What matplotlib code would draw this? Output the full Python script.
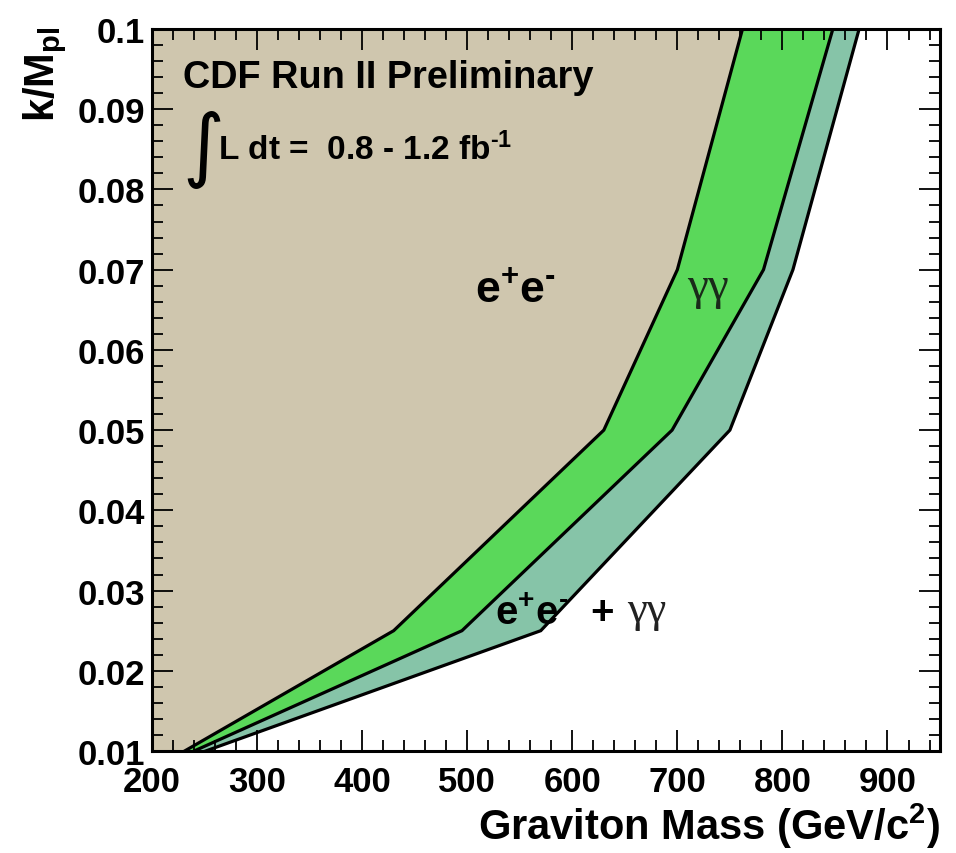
import matplotlib
matplotlib.use("Agg")
import matplotlib.pyplot as plt
from matplotlib.ticker import MultipleLocator, FuncFormatter

# ---- data ----
k_values = [0.01, 0.025, 0.05, 0.07, 0.10]
ee_mass = [231, 430, 630, 700, 762]        # e+e- exclusion boundary
gg_mass = [240, 495, 695, 782, 848]        # gamma-gamma boundary
comb_mass = [251, 570, 750, 810, 873]      # combined boundary
x_range = [200, 950]
y_range = [0.01, 0.10]

plt.rcParams['font.family'] = ['Liberation Sans', 'DejaVu Sans']
plt.rcParams['font.weight'] = 'bold'
plt.rcParams['mathtext.fontset'] = 'custom'
plt.rcParams['mathtext.rm'] = 'Liberation Sans:bold'
plt.rcParams['mathtext.it'] = 'Liberation Sans:bold'
plt.rcParams['mathtext.bf'] = 'Liberation Sans:bold'

TAN = '#cfc6ae'
GREEN = '#5ad85a'
TEAL = '#86c4a8'
HY = '\u2010'

fig = plt.figure(figsize=(9.56, 8.54), dpi=100)
ax = fig.add_axes([0.159, 0.1194, 0.8243, 0.8455])

ax.fill_betweenx(k_values, x_range[0], ee_mass, color=TAN, lw=0)
ax.fill_betweenx(k_values, ee_mass, gg_mass, color=GREEN, lw=0)
ax.fill_betweenx(k_values, gg_mass, comb_mass, color=TEAL, lw=0)
for m in (ee_mass, gg_mass, comb_mass):
    ax.plot(m, k_values, color='black', lw=2.3, solid_joinstyle='miter')

ax.set_xlim(*x_range)
ax.set_ylim(*y_range)

ax.xaxis.set_major_locator(MultipleLocator(100))
ax.xaxis.set_minor_locator(MultipleLocator(20))
ax.yaxis.set_major_locator(MultipleLocator(0.01))
ax.yaxis.set_minor_locator(MultipleLocator(0.002))
ax.yaxis.set_major_formatter(FuncFormatter(lambda v, p: '%g' % round(v, 3)))

ax.tick_params(which='both', direction='in', top=True, right=True, width=1.3, colors='black')
ax.tick_params(which='major', length=15)
ax.tick_params(which='minor', length=8)
ax.tick_params(axis='x', which='major', labelsize=25, pad=10)
ax.tick_params(axis='y', which='major', labelsize=25, pad=5)
for lab in ax.get_xticklabels() + ax.get_yticklabels():
    lab.set_fontweight('bold')
for s in ax.spines.values():
    s.set_linewidth(2.2)

ax.set_xlabel(r'Graviton Mass (GeV/c$^{2}$)', fontsize=30, fontweight='bold', loc='right')
ax.xaxis.set_label_coords(1.0, -0.068)
ax.set_ylabel(r'k/M$_{\rm pl}$', fontsize=30, fontweight='bold', loc='top')
ax.yaxis.set_label_coords(-0.105, 1.005)

tr = ax.transAxes
ax.text(0.039, 0.92, 'CDF Run II Preliminary', transform=tr, fontsize=27.3,
        fontweight='bold', va='baseline')
ax.text(0.038, 0.834, '\u222b', transform=tr, fontsize=58, va='center',
        family=['DejaVu Sans'], fontweight='normal')
ax.text(0.084, 0.82, 'L dt =  0.8 - 1.2 fb$^{' + HY + '1}$', transform=tr, fontsize=24,
        fontweight='bold', va='baseline')
ax.text(0.41, 0.622, 'e$^{+}$e$^{' + HY + '}$', transform=tr, fontsize=32,
        fontweight='bold', va='baseline')
ax.text(0.679, 0.643, '\u03b3\u03b3', transform=tr, fontsize=34, va='center',
        family=['Liberation Serif', 'DejaVu Serif'], fontweight='normal', color='#1a2a1a')
ax.text(0.435, 0.176, 'e$^{+}$e$^{' + HY + '}$  +', transform=tr, fontsize=29,
        fontweight='bold', va='baseline')
ax.text(0.603, 0.195, '\u03b3\u03b3', transform=tr, fontsize=32, va='center',
        family=['Liberation Serif', 'DejaVu Serif'], fontweight='normal', color='#222222')

fig.savefig('out.png', dpi=100)
